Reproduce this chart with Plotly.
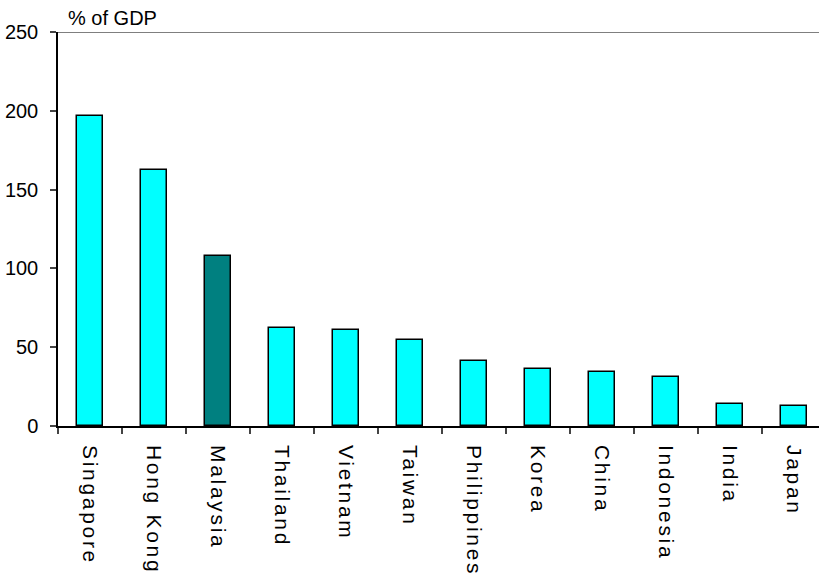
import plotly.graph_objects as go

# Country data, % of GDP
countries = ["Singapore", "Hong Kong", "Malaysia", "Thailand", "Vietnam", "Taiwan",
             "Philippines", "Korea", "China", "Indonesia", "India", "Japan"]
values = [197, 162.5, 108, 62, 61, 54.5, 41.5, 36, 34.5, 31, 14, 13]
highlight = "Malaysia"

y_ticks = [0, 50, 100, 150, 200, 250]

bar_colors = ["#008080" if c == highlight else "#00FFFF" for c in countries]

FONT = "Liberation Sans, Arial, sans-serif"

fig = go.Figure(
    go.Bar(
        x=countries,
        y=values,
        width=0.4,
        marker=dict(color=bar_colors, line=dict(color="#000000", width=1.5)),
        hoverinfo="skip",
    )
)

fig.update_layout(
    width=819,
    height=581,
    margin=dict(l=58, r=0, t=32, b=155),
    paper_bgcolor="white",
    plot_bgcolor="white",
    showlegend=False,
    font=dict(family=FONT, color="#000000", size=20),
    bargap=0,
)

fig.update_xaxes(
    type="category",
    categoryorder="array",
    categoryarray=countries,
    range=[-0.5, 11.39],
    tickson="boundaries",
    ticks="outside",
    ticklen=6,
    tickwidth=1.5,
    tickcolor="#444444",
    tickangle=90,
    tickfont=dict(family=FONT, size=21, color="#000000"),
    ticklabelstandoff=13,
    showline=True,
    linecolor="#000000",
    linewidth=1.5,
    showgrid=False,
    zeroline=False,
    fixedrange=True,
)

fig.update_yaxes(
    range=[0, 250],
    tickmode="array",
    tickvals=y_ticks,
    ticktext=[str(v) for v in y_ticks],
    ticks="outside",
    ticklen=6,
    tickwidth=1.5,
    tickcolor="#444444",
    tickfont=dict(family=FONT, size=20, color="#000000"),
    ticklabelstandoff=8,
    showline=True,
    linecolor="#000000",
    linewidth=1.5,
    showgrid=False,
    zeroline=False,
    fixedrange=True,
)

# Top border line at the axis maximum
fig.add_shape(type="line", xref="paper", yref="y", x0=0, x1=1, y0=250, y1=250,
              line=dict(color="#000000", width=1.2))

# Axis unit label above the plot
fig.add_annotation(text="% of GDP", xref="paper", yref="paper", x=0, y=1,
                   xanchor="left", yanchor="bottom", xshift=8, yshift=1,
                   showarrow=False, font=dict(family=FONT, size=20, color="#000000"))

# Spread out the letters of the category labels
post = """
document.querySelectorAll('.xtick text').forEach(function(t){
  t.style.letterSpacing = '2.7px';
});
"""

fig.write_html("out.html", post_script=post, config={"displayModeBar": False})
